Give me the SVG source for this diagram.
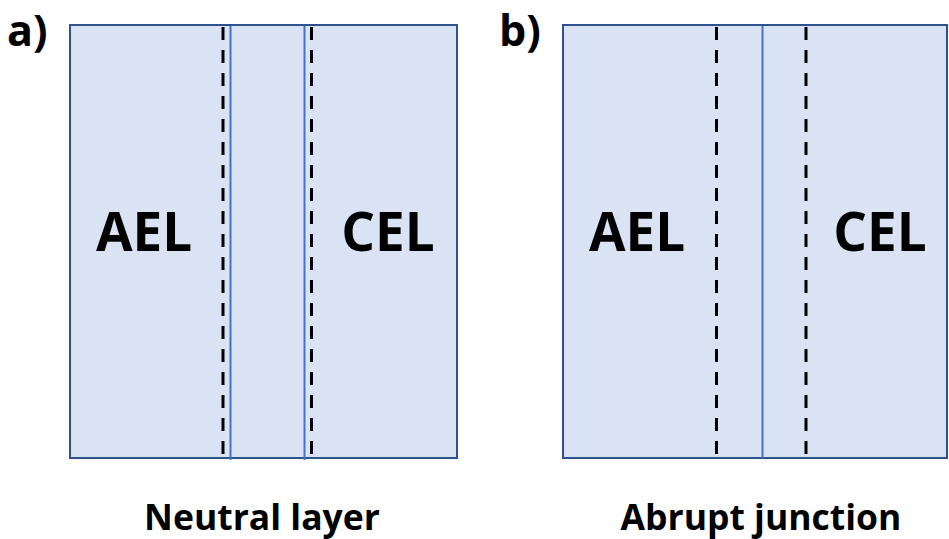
<svg xmlns="http://www.w3.org/2000/svg" width="949" height="539" viewBox="0 0 949 539">
  <style>
    .panel { fill: #dae3f3; stroke: #2f528f; stroke-width: 2; }
    .iface { stroke: #4472c4; stroke-width: 2; }
    .edge { stroke: #000; stroke-width: 3; stroke-dasharray: 13 10; }
    .lbl { font-family: "Open Sans", "Liberation Sans", sans-serif; font-weight: bold; fill: #000; }
    .big { font-size: 53px; }
    .tag { font-size: 43px; }
    .cap { font-size: 35.5px; }
  </style>

  <!-- panel a: neutral layer between AEL and CEL -->
  <g id="panel-a">
    <rect class="panel" x="70" y="25" width="387" height="433"/>
    <text class="lbl tag" x="7" y="46">a)</text>
    <text class="lbl big" x="144" y="251" text-anchor="middle">AEL</text>
    <text class="lbl big" x="388" y="251" text-anchor="middle">CEL</text>
    <text class="lbl cap" x="262" y="530" text-anchor="middle">Neutral layer</text>
  </g>

  <!-- panel b: abrupt junction between AEL and CEL -->
  <g id="panel-b">
    <rect class="panel" x="563" y="25" width="384" height="433"/>
    <text class="lbl tag" x="499" y="46">b)</text>
    <text class="lbl big" x="637" y="251" text-anchor="middle">AEL</text>
    <text class="lbl big" x="880" y="251" text-anchor="middle">CEL</text>
    <text class="lbl cap" x="761" y="530" text-anchor="middle">Abrupt junction</text>
  </g>

  <!-- interface and boundary lines -->
  <g id="connectors">
    <line class="iface" x1="230.5" y1="26" x2="230.5" y2="460"/>
    <line class="iface" x1="304.5" y1="26" x2="304.5" y2="460"/>
    <line class="edge" x1="223" y1="27" x2="223" y2="457"/>
    <line class="edge" x1="311.5" y1="27" x2="311.5" y2="457"/>
    <line class="iface" x1="762.5" y1="26" x2="762.5" y2="458"/>
    <line class="edge" x1="716.5" y1="27" x2="716.5" y2="457"/>
    <line class="edge" x1="806" y1="27" x2="806" y2="457"/>
  </g>
</svg>
